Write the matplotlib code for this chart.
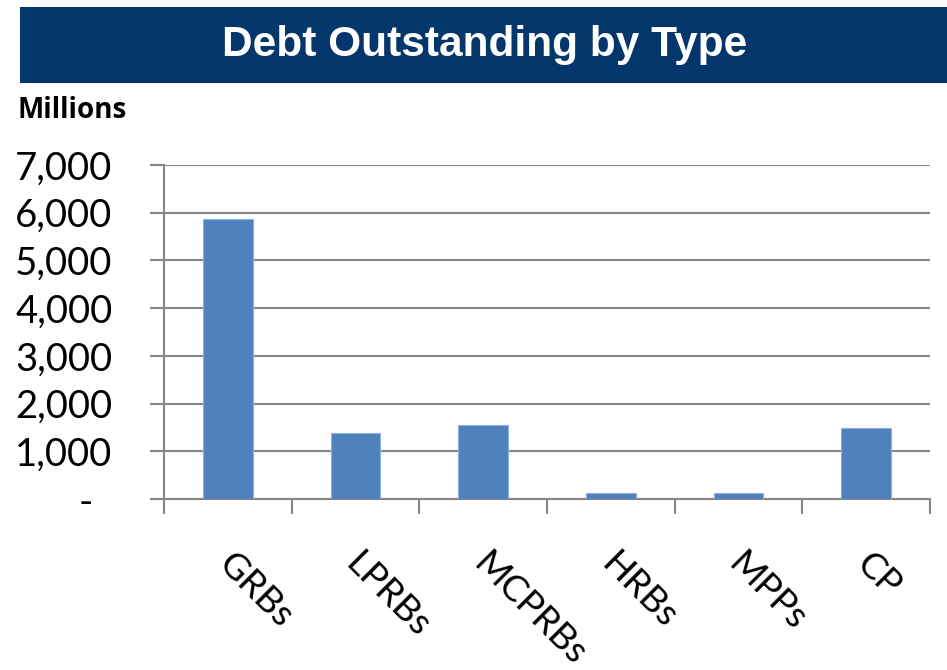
import matplotlib
matplotlib.use("Agg")
import matplotlib.pyplot as plt
from matplotlib.patches import Rectangle

categories = ["GRBs", "LPRBs", "MCPRBs", "HRBs", "MPPs", "CP"]
values = [5860, 1380, 1560, 130, 130, 1490]
yticks = [0, 1000, 2000, 3000, 4000, 5000, 6000, 7000]
ytick_labels = ["-  ", "1,000", "2,000", "3,000", "4,000", "5,000", "6,000", "7,000"]

W, H = 947, 670
fig = plt.figure(figsize=(W / 100, H / 100), dpi=100)

# title banner
fig.patches.append(Rectangle((20 / W, 1 - 83 / H), 1 - 20 / W, 76 / H,
                             transform=fig.transFigure, facecolor="#03366A",
                             edgecolor="none", zorder=0))
fig.text((222 + 748) / 2 / W, 1 - 45 / H, "Debt Outstanding by Type",
         ha="center", va="center", color="white", fontsize=30.5,
         fontweight="bold", family="Liberation Sans")
fig.text(18 / W, 1 - 110 / H, "Millions", ha="left", va="center",
         fontsize=20, fontweight="bold", family="Open Sans")

ax = fig.add_axes([164 / W, 1 - 499 / H, (930 - 164) / W, (499 - 165) / H])
x = list(range(len(categories)))
ax.bar(x, values, width=0.39, color="#4F81BD", edgecolor="#8DB0DD",
       linewidth=0.8, zorder=3)
ax.set_xlim(-0.5, len(categories) - 0.5)
ax.set_ylim(0, 7000)
ax.set_yticks(yticks)
ax.set_yticklabels(ytick_labels, family="Lato", fontsize=27.5)
ax.grid(axis="y", color="#868686", linewidth=1.5, zorder=1)

grey = "#868686"
for s in ["top", "right"]:
    ax.spines[s].set_visible(False)
for s in ["left", "bottom"]:
    ax.spines[s].set_color(grey)
    ax.spines[s].set_linewidth(1.5)
ax.tick_params(axis="y", length=10, width=1.5, color=grey, pad=27)

# category boundary ticks
ax.set_xticks([i - 0.5 for i in range(len(categories) + 1)])
ax.set_xticklabels([])
ax.tick_params(axis="x", length=11, width=1.5, color=grey)
for i, c in enumerate(categories):
    ax.annotate(c, xy=(i, 0), xycoords=("data", "axes fraction"),
                xytext=(-3, -43), textcoords="offset points",
                rotation=-45, rotation_mode="anchor", ha="left", va="center",
                fontsize=26.5, family="Lato")

fig.savefig("out.png", dpi=100)
